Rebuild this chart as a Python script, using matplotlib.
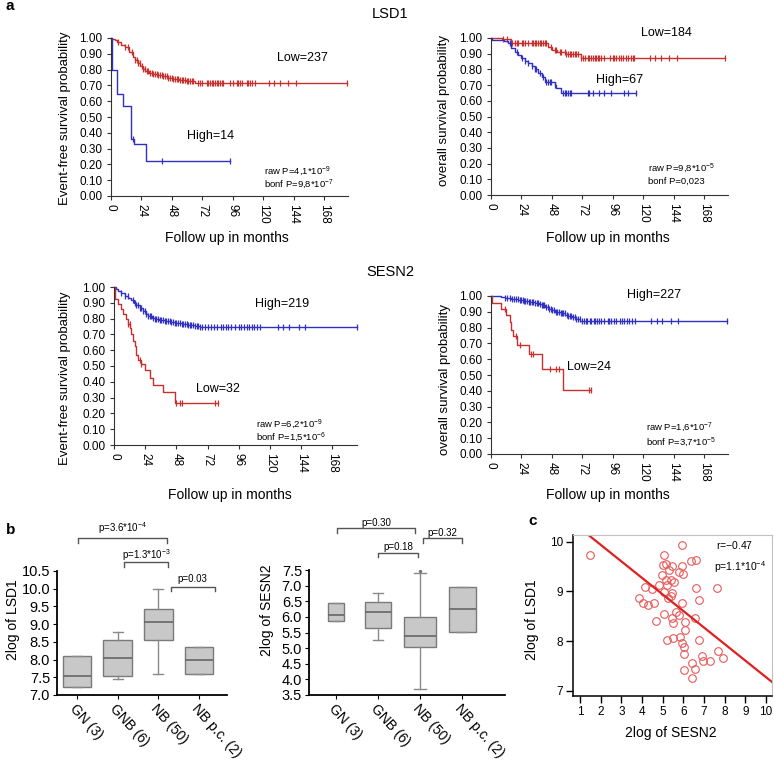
import matplotlib
matplotlib.use('Agg')
import matplotlib.pyplot as plt
import matplotlib.transforms as mtransforms
import numpy as np

plt.rcParams['font.family'] = ['Liberation Sans', 'DejaVu Sans']
plt.rcParams['mathtext.fontset'] = 'custom'
plt.rcParams['mathtext.rm'] = 'Liberation Sans'
plt.rcParams['mathtext.it'] = 'Liberation Sans:italic'
plt.rcParams['mathtext.bf'] = 'Liberation Sans:bold'

W, H = 774, 760
RED = '#c8302e'
BLUE = '#3030c4'

# ---------------- Kaplan-Meier data (months, survival) ----------------
# LSD1 event-free
a1_low_t = [0, 1, 3, 5, 8, 11, 14, 17, 19, 21, 23, 25, 27, 30, 33, 37, 41, 45, 49, 54, 59, 66]
a1_low_s = [1, 0.996, 0.987, 0.975, 0.958, 0.94, 0.91, 0.88, 0.86, 0.84, 0.82, 0.805, 0.79,
            0.78, 0.772, 0.765, 0.757, 0.75, 0.743, 0.736, 0.728, 0.713]
a1_low_end = 186
a1_low_cens = [5.8, 11, 13.7, 16.3, 19, 20.3, 21.6, 22.9, 24.2, 25.5, 26.8, 28.2, 29.5, 30.8,
               32.1, 33.4, 34.7, 36, 37.4, 38.7, 40, 41.3, 42.6, 43.9, 45.3, 46.6, 47.9, 49.2,
               50.5, 51.8, 53.2, 54.5, 55.8, 57.1, 58.4, 59.7, 61, 62.4, 63.7, 65, 69, 70.3,
               71.6, 75.5, 76.8, 78.2, 79.5, 80.8, 82.1, 83.4, 84.7, 86, 87.4, 88.7, 94, 96.6,
               99.2, 100.5, 101.8, 103.2, 107, 108.4, 109.7, 111, 113.7, 125, 129, 133, 140,
               146, 186]
a1_high_t = [0, 0.5, 4.5, 9.2, 15.5, 18, 27.3]
a1_high_s = [1, 0.80, 0.645, 0.57, 0.36, 0.33, 0.22]
a1_high_end = 94
a1_high_cens = [17.5, 40, 94]

# LSD1 overall
a2_low_t = [0, 9, 16, 45, 48, 52, 59, 71]
a2_low_s = [1, 0.992, 0.967, 0.945, 0.924, 0.913, 0.90, 0.875]
a2_low_end = 185
a2_low_cens = [9.7, 12.3, 16.2, 18.8, 20.2, 21.5, 24.1, 25.4, 26.7, 29.3, 32, 33.3, 34.6, 35.9,
               37.2, 38.5, 39.8, 41.1, 42.4, 43.7, 47.6, 50.3, 51.6, 54.2, 55.5, 58.1, 59.4,
               60.7, 62, 63.4, 64.7, 66, 67.3, 68.6, 71.2, 72.5, 73.8, 76.4, 77.7, 79.1, 80.4,
               81.7, 83, 84.3, 85.6, 86.9, 89.5, 93.5, 96.1, 97.4, 98.7, 101.3, 102.6, 103.9,
               106.5, 107.9, 110.5, 111.8, 113.1, 125.6, 129.6, 134, 140.6, 146.6, 185]
a2_high_t = [0, 1, 10, 13.5, 16, 19, 21.5, 24, 26.7, 29.3, 32, 34.6, 37, 40, 42.4, 50.3, 51.6, 55.5]
a2_high_s = [1, 0.99, 0.983, 0.966, 0.934, 0.913, 0.894, 0.873, 0.856, 0.839, 0.822, 0.80,
             0.779, 0.754, 0.72, 0.70, 0.68, 0.648]
a2_high_end = 114.4
a2_high_cens = [14.9, 20.2, 24.1, 26.7, 29.3, 32, 34.6, 35.9, 38.5, 41.1, 43.7, 45, 46.3, 47.6,
                50.3, 56.8, 58.1, 59.4, 60.7, 62, 63.4, 76.4, 77.7, 80.4, 85.6, 89, 94.8,
                104.7, 108.4, 114.4]

# SESN2 event-free
a3_high_t = [0, 1.5, 3, 5.5, 8.2, 11, 13.4, 15.5, 17.2, 19.8, 22.4, 24.5, 26.2, 29, 31.4, 35,
             39, 43, 46.8, 52, 57, 62, 66]
a3_high_s = [1, 0.99, 0.975, 0.96, 0.945, 0.93, 0.915, 0.90, 0.885, 0.865, 0.845, 0.83, 0.815,
             0.805, 0.797, 0.79, 0.784, 0.78, 0.775, 0.768, 0.762, 0.756, 0.75]
a3_high_end = 187
a3_high_cens = [5.7, 8.2, 10.8, 14.7, 16, 17.2, 18.5, 19.8, 21, 22.4, 23.7, 25, 26.2, 27.5, 28.8,
                30, 31.4, 32.6, 34, 35.2, 36.5, 37.8, 39, 40.3, 41.6, 42.9, 44.2, 45.5, 46.8,
                48, 49.3, 50.6, 52, 53.2, 54.5, 55.8, 57, 58.4, 59.6, 61, 62.2, 63.5, 64.8, 66,
                68, 70, 72, 75, 77, 79, 82, 84, 86, 88, 90, 93, 96, 98, 100, 102, 104, 106, 108,
                110, 112, 126, 130, 135, 142, 147, 187]
a3_low_t = [0, 0.5, 3, 5.7, 7, 9.5, 10.8, 12.1, 13.4, 14.5, 15.9, 17.2, 18.5, 21, 23.7, 27.5,
            30, 37.8, 46.8]
a3_low_s = [1, 0.923, 0.89, 0.86, 0.83, 0.80, 0.764, 0.743, 0.70, 0.66, 0.625, 0.572, 0.54,
            0.51, 0.477, 0.423, 0.38, 0.338, 0.264]
a3_low_end = 80
a3_low_cens = [10.8, 12, 19.8, 21, 48, 50.6, 52.4, 78, 80]

# SESN2 overall
a4_high_t = [0, 8, 11, 16, 21.6, 26, 30, 34.8, 38, 40, 43, 45.4, 48, 50.7, 55, 58.6, 61, 63.9,
             67, 70.4]
a4_high_s = [1, 0.996, 0.99, 0.982, 0.975, 0.968, 0.961, 0.954, 0.948, 0.943, 0.932, 0.92,
             0.91, 0.90, 0.89, 0.88, 0.875, 0.87, 0.857, 0.843]
a4_high_end = 186.5
a4_high_cens = [11, 12.5, 15, 16.5, 18, 19.5, 21, 22.5, 24, 25, 26, 27, 28.5, 30, 31, 32, 33.5,
                35, 36, 37, 38.5, 40, 41, 42, 43.5, 45, 46, 47, 48.5, 50, 51, 52, 53.5, 55, 56,
                57, 58.5, 60, 61, 62, 63.5, 65, 66, 67, 68.5, 70, 72, 73, 75, 76, 78, 79, 81,
                82, 84, 85, 87, 89, 92, 93, 95, 97, 99, 102, 103, 105, 107, 109, 111, 114,
                126.6, 130.6, 135, 141.7, 147.8, 186.5]
a4_low_t = [0, 0.5, 7.9, 11.6, 15, 15.8, 17.7, 20.3, 29.6, 40.1, 56.5]
a4_low_s = [1, 0.958, 0.92, 0.88, 0.835, 0.785, 0.75, 0.69, 0.63, 0.54, 0.405]
a4_low_end = 79.2
a4_low_cens = [11, 19.5, 23, 31.4, 33.5, 46.7, 51.2, 53.8, 77, 79.2]

month_ticks = [0, 24, 48, 72, 96, 120, 144, 168]
surv_ticks = [0.0, 0.1, 0.2, 0.3, 0.4, 0.5, 0.6, 0.7, 0.8, 0.9, 1.0]

# ---------------- box plot data ----------------
groups = ['GN (3)', 'GNB (6)', 'NB (50)', 'NB p.c. (2)']
lsd1_med = [7.55, 8.04, 9.06, 7.99]
lsd1_q1 = [7.23, 7.53, 8.56, 7.58]
lsd1_q3 = [8.09, 8.56, 9.42, 8.35]
lsd1_lo = [7.23, 7.44, 7.60, 7.58]
lsd1_hi = [8.09, 8.77, 10.0, 8.35]
sesn2_med = [6.06, 6.17, 5.40, 6.26]
sesn2_q1 = [5.87, 5.66, 5.05, 5.53]
sesn2_q3 = [6.46, 6.49, 5.99, 6.95]
sesn2_lo = [5.87, 5.27, 3.69, 5.53]
sesn2_hi = [6.46, 6.76, 7.39, 6.95]
sesn2_fliers = [[], [], [7.48], []]

# ---------------- scatter data (SESN2 vs LSD1) ----------------
sesn2_x = [1.48, 5.07, 5.94, 6.38, 6.62, 5.0, 5.15, 5.46, 5.93, 5.31, 5.8, 5.97, 4.96, 5.15,
           5.39, 5.57, 5.2, 4.84, 4.15, 4.5, 5.07, 5.47, 5.39, 5.26, 6.61, 7.63, 6.74, 3.86,
           4.07, 4.3, 4.59, 5.95, 5.06, 5.65, 5.78, 5.46, 5.52, 4.7, 6.1, 6.57, 6.1, 5.22,
           5.51, 5.86, 5.94, 6.02, 6.01, 6.74, 7.7, 6.9, 6.93, 7.27, 7.91, 6.42, 6.58, 6.04,
           6.41]
lsd1_y = [9.74, 9.74, 9.94, 9.62, 9.64, 9.53, 9.55, 9.51, 9.52, 9.44, 9.40, 9.36, 9.33, 9.23,
          9.24, 9.19, 9.13, 9.13, 9.09, 9.04, 8.99, 8.96, 8.91, 8.86, 9.08, 9.07, 8.83, 8.87,
          8.76, 8.73, 8.76, 8.76, 8.54, 8.59, 8.52, 8.46, 8.36, 8.41, 8.39, 8.46, 8.22, 8.03,
          8.07, 8.08, 7.95, 7.87, 7.74, 8.03, 7.80, 7.70, 7.60, 7.60, 7.65, 7.55, 7.44, 7.42,
          7.26]
fit_intercept = 10.61
fit_slope = -0.334

fig = plt.figure(figsize=(W / 100, H / 100), dpi=100)


def add_ax(l, t, r, b):
    return fig.add_axes([l / W, 1 - b / H, (r - l) / W, (b - t) / H])


def ftext(x, y, s, **kw):
    kw.setdefault('ha', 'center')
    kw.setdefault('va', 'center')
    fig.text(x / W, 1 - y / H, s, **kw)


def km(ax, t, s, t_end, cens, color):
    t = np.asarray(t, float)
    s = np.asarray(s, float)
    ax.step(np.append(t, t_end), np.append(s, s[-1]), where='post', color=color, lw=1.0,
            clip_on=False)
    cy = s[np.searchsorted(t, cens, side='right') - 1]
    ax.plot(cens, cy, ls='none', marker='|', ms=5, mew=0.9, color=color, clip_on=False)


def km_style(ax):
    ax.set_xlim(0, 187)
    ax.set_ylim(0, 1)
    ax.set_xticks(month_ticks)
    ax.set_xticklabels([str(m) for m in month_ticks], rotation=-90, fontsize=8.5)
    ax.set_yticks(surv_ticks)
    ax.set_yticklabels(['%.2f' % v for v in surv_ticks], fontsize=8.5)
    for sp in ['top', 'right']:
        ax.spines[sp].set_visible(False)
    for sp in ['left', 'bottom']:
        ax.spines[sp].set_linewidth(0.8)
        ax.spines[sp].set_color('#333333')
    ax.tick_params(length=3, width=0.8, pad=3, color='#333333')


# panel a
ax1 = add_ax(111, 38, 348, 196)
km(ax1, a1_low_t, a1_low_s, a1_low_end, a1_low_cens, RED)
km(ax1, a1_high_t, a1_high_s, a1_high_end, a1_high_cens, BLUE)
km_style(ax1)

ax2 = add_ax(491, 38, 728, 195)
km(ax2, a2_low_t, a2_low_s, a2_low_end, a2_low_cens, RED)
km(ax2, a2_high_t, a2_high_s, a2_high_end, a2_high_cens, BLUE)
km_style(ax2)

ax3 = add_ax(114, 287, 357, 445)
km(ax3, a3_high_t, a3_high_s, a3_high_end, a3_high_cens, BLUE)
km(ax3, a3_low_t, a3_low_s, a3_low_end, a3_low_cens, RED)
km_style(ax3)

ax4 = add_ax(491, 296, 728, 454)
km(ax4, a4_high_t, a4_high_s, a4_high_end, a4_high_cens, BLUE)
km(ax4, a4_low_t, a4_low_s, a4_low_end, a4_low_cens, RED)
km_style(ax4)

ftext(6, 6, 'a', fontsize=11, fontweight='bold', ha='left')
ftext(390, 14, 'LSD1', fontsize=10.5)
ftext(390, 272, 'SESN2', fontsize=10.5)

ftext(65, 118, 'Event-free survival probability', rotation=90, fontsize=9.5)
ftext(444, 111, 'overall survival probability', rotation=90, fontsize=9.5)
ftext(65, 378, 'Event-free survival probability', rotation=90, fontsize=9.5)
ftext(445, 379, 'overall survival probability', rotation=90, fontsize=9.5)
ftext(227, 238, 'Follow up in months', fontsize=10)
ftext(608, 238, 'Follow up in months', fontsize=10)
ftext(230, 495, 'Follow up in months', fontsize=10)
ftext(608, 495, 'Follow up in months', fontsize=10)

ftext(302, 58, 'Low=237', fontsize=9)
ftext(211, 136, 'High=14', fontsize=9)
ftext(264, 171, r'raw P=4,1*10$^{-9}$', fontsize=6.8, ha='left')
ftext(264, 184, r'bonf P=9,8*10$^{-7}$', fontsize=6.8, ha='left')

ftext(666, 33, 'Low=184', fontsize=9)
ftext(620, 80, 'High=67', fontsize=9)
ftext(648, 168, r'raw P=9,8*10$^{-5}$', fontsize=6.8, ha='left')
ftext(648, 181, 'bonf P=0,023', fontsize=6.8, ha='left')

ftext(282, 304, 'High=219', fontsize=9)
ftext(218, 389, 'Low=32', fontsize=9)
ftext(256, 424, r'raw P=6,2*10$^{-9}$', fontsize=6.8, ha='left')
ftext(256, 437, r'bonf P=1,5*10$^{-6}$', fontsize=6.8, ha='left')

ftext(654, 295, 'High=227', fontsize=9)
ftext(589, 367, 'Low=24', fontsize=9)
ftext(646, 427, r'raw P=1,6*10$^{-7}$', fontsize=6.8, ha='left')
ftext(646, 442, r'bonf P=3,7*10$^{-5}$', fontsize=6.8, ha='left')


# panel b
def box_panel(ax, med, q1, q3, lo, hi, fliers, widths):
    stats = []
    for i in range(len(med)):
        stats.append(dict(med=med[i], q1=q1[i], q3=q3[i], whislo=lo[i], whishi=hi[i],
                          fliers=fliers[i]))
    ax.bxp(stats, positions=[1, 2, 3, 4], widths=widths, patch_artist=True,
           boxprops=dict(facecolor='#c8c8c8', edgecolor='#7a7a7a', lw=1),
           medianprops=dict(color='#666666', lw=1.2),
           whiskerprops=dict(color='#8a8a8a', lw=1),
           capprops=dict(color='#8a8a8a', lw=1),
           flierprops=dict(marker='.', ms=3, mfc='#777777', mec='#777777'),
           capwidths=[w * 0.35 for w in widths])
    for sp in ['top', 'right']:
        ax.spines[sp].set_visible(False)
    for sp in ['left', 'bottom']:
        ax.spines[sp].set_linewidth(1.3)
    ax.set_xticks([1, 2, 3, 4])
    ax.set_xticklabels(groups, rotation=-48, ha='left', va='top', rotation_mode='anchor',
                       fontsize=10)
    shift = mtransforms.ScaledTranslation(-8 / 100, 0, fig.dpi_scale_trans)
    for lab in ax.get_xticklabels():
        lab.set_transform(lab.get_transform() + shift)
    ax.tick_params(axis='x', length=3, pad=2)
    ax.tick_params(axis='y', length=3, labelsize=10.5, pad=2)


def bracket(ax, x1, x2, y, leg, label, ty):
    ax.plot([x1, x1, x2, x2], [y - leg, y, y, y - leg], color='#555555', lw=1, clip_on=False)
    ax.text((x1 + x2) / 2, ty, label, ha='center', va='center', fontsize=7)


axb1 = add_ax(57, 571, 227, 695)
box_panel(axb1, lsd1_med, lsd1_q1, lsd1_q3, lsd1_lo, lsd1_hi, [[], [], [], []],
          [0.68, 0.7, 0.7, 0.68])
axb1.set_xlim(0.51, 4.69)
axb1.set_ylim(7.0, 10.5)
axb1.set_yticks([7.0, 7.5, 8.0, 8.5, 9.0, 9.5, 10.0, 10.5])
axb1.set_yticklabels(['%.1f' % v for v in [7.0, 7.5, 8.0, 8.5, 9.0, 9.5, 10.0, 10.5]])
bracket(axb1, 1.02, 3.21, 11.43, 0.15, r'p=3.6*10$^{-4}$', 11.71)
bracket(axb1, 2.16, 3.24, 10.75, 0.15, r'p=1.3*10$^{-3}$', 10.95)
bracket(axb1, 3.31, 4.39, 10.05, 0.12, 'p=0.03', 10.27)

axb2 = add_ax(309, 570, 505, 695)
box_panel(axb2, sesn2_med, sesn2_q1, sesn2_q3, sesn2_lo, sesn2_hi, sesn2_fliers,
          [0.4, 0.64, 0.77, 0.64])
axb2.set_xlim(0.36, 5.02)
axb2.set_ylim(3.5, 7.5)
axb2.set_yticks([3.5, 4.0, 4.5, 5.0, 5.5, 6.0, 6.5, 7.0, 7.5])
axb2.set_yticklabels(['%.1f' % v for v in [3.5, 4.0, 4.5, 5.0, 5.5, 6.0, 6.5, 7.0, 7.5]])
bracket(axb2, 1.02, 2.88, 8.84, 0.16, 'p=0.30', 9.0)
bracket(axb2, 2.0, 2.95, 8.04, 0.13, 'p=0.18', 8.24)
bracket(axb2, 3.07, 4.0, 8.52, 0.16, 'p=0.32', 8.68)

ftext(6, 530, 'b', fontsize=11, fontweight='bold', ha='left')
ftext(13, 620, '2log of LSD1', rotation=90, fontsize=10)
ftext(267, 610, '2log of SESN2', rotation=90, fontsize=10)

# panel c
axc = add_ax(573, 535, 772, 696)
axc.plot(sesn2_x, lsd1_y, ls='none', marker='o', mfc='none', mec='#e85a5a', ms=5.5, mew=0.8)
axc.axline((0, fit_intercept), slope=fit_slope, color='#e02020', lw=1.6)
axc.set_xlim(0.66, 10.29)
axc.set_ylim(6.89, 10.14)
axc.set_xticks(range(1, 11))
axc.set_yticks([7, 8, 9, 10])
axc.tick_params(length=5, width=1, labelsize=8.5, pad=2)
for sp in ['top', 'right']:
    axc.spines[sp].set_color('#c0c0c0')
    axc.spines[sp].set_linewidth(0.8)
for sp in ['left', 'bottom']:
    axc.spines[sp].set_linewidth(1.1)
axc.text(0.72, 0.94, r'r=$-$0.47', transform=axc.transAxes, fontsize=7.5, ha='left', va='center')
axc.text(0.71, 0.80, r'p=1.1*10$^{-4}$', transform=axc.transAxes, fontsize=7.5, ha='left',
         va='center')

ftext(528, 521, 'c', fontsize=11, fontweight='bold', ha='left')
ftext(532, 620, '2log of LSD1', rotation=90, fontsize=10)
ftext(671, 733, '2log of SESN2', fontsize=10)

fig.savefig('out.png', dpi=100)
